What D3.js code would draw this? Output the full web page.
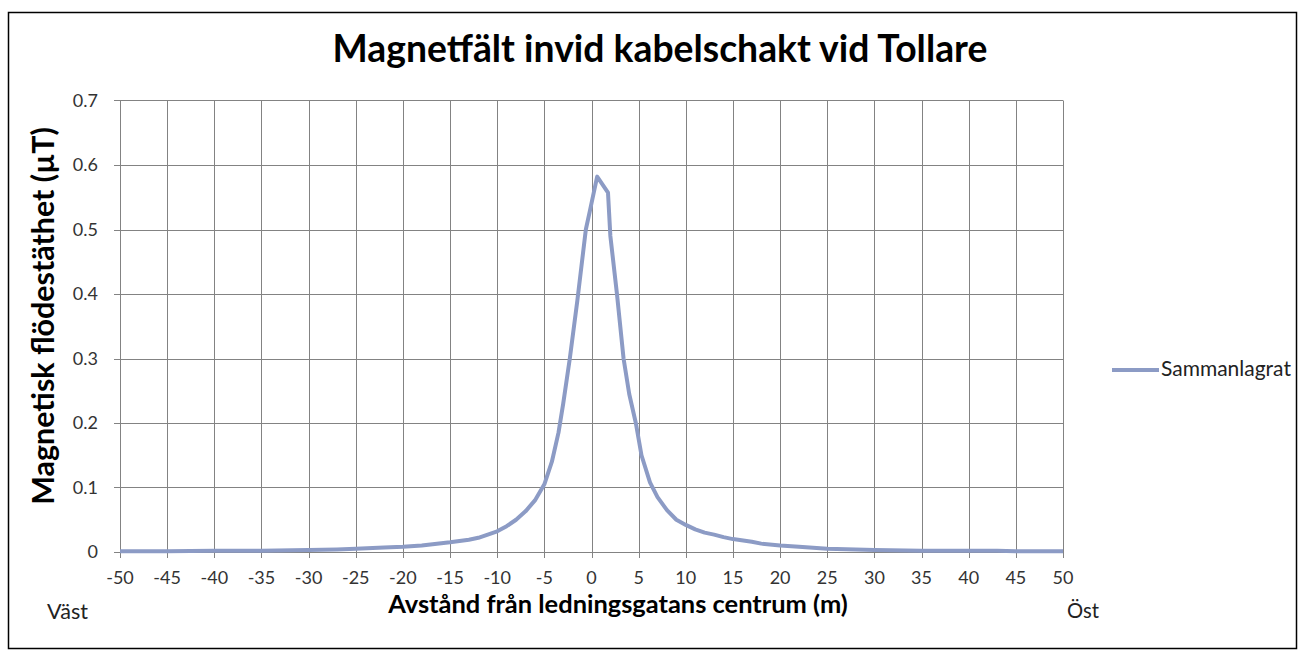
<!DOCTYPE html>
<html>
<head>
<meta charset="utf-8">
<script src="https://cdn.jsdelivr.net/npm/d3@7"></script>
<style>
  body { margin: 0; background: #fff; }
  svg { display: block; font-family: Lato, "Open Sans", sans-serif; }
</style>
</head>
<body>
<svg id="chart"></svg>
<script>
// distance from centre of the cable route (m) and flux density (µT)
const distance = [-50, -45, -40, -35, -30, -27, -25, -22, -20, -18, -15, -13, -12, -11, -10,
  -9, -8, -7, -6, -5, -4.2, -3.5, -3, -2.3, -1.5, -0.6, -0.2, 0.6, 1.75, 2, 2.7, 3.4, 4,
  4.7, 5.3, 6.2, 7, 8, 9, 10, 11, 12, 13, 14, 15, 17, 18, 20, 22, 25, 30, 35, 40, 43, 45, 50]
const fluxDensity = [0.001, 0.001, 0.002, 0.002, 0.003, 0.004, 0.005, 0.007, 0.008, 0.01, 0.015, 0.019, 0.022, 0.027, 0.032,
  0.04, 0.05, 0.063, 0.08, 0.105, 0.14, 0.185, 0.23, 0.3, 0.39, 0.5, 0.527, 0.582, 0.557, 0.49, 0.4, 0.3, 0.245,
  0.2, 0.15, 0.108, 0.085, 0.065, 0.05, 0.042, 0.035, 0.03, 0.027, 0.023, 0.02, 0.016, 0.013, 0.01, 0.008, 0.005, 0.003, 0.002, 0.002, 0.002, 0.001, 0.001]

const xTicks = d3.range(-50, 51, 5)
const yTicks = d3.range(0, 0.71, 0.1)
const seriesName = "Sammanlagrat"

const W = 1298, H = 650
const lineColor = "#8c9bc5"
const gridColor = "#838383"

const svg = d3.select("#chart").attr("width", W).attr("height", H)

// outer frame
svg.append("rect")
    .attr("x", 8.5).attr("y", 12.5)
    .attr("width", W - 10).attr("height", H - 14)
    .attr("fill", "none").attr("stroke", "#000").attr("stroke-width", 1.5)

const x = d3.scaleLinear().domain([-50, 50]).range([120, 1063])
const y = d3.scaleLinear().domain([0, 0.7]).range([552, 100.5])

// gridlines
const g = svg.append("g")
g.selectAll("line.hgrid").data(yTicks).enter().append("line")
    .attr("class", "hgrid")
    .attr("x1", 114).attr("x2", x(50))
    .attr("y1", d => Math.round(y(d)) + 0.5).attr("y2", d => Math.round(y(d)) + 0.5)
    .attr("stroke", gridColor)
g.selectAll("line.vgrid").data(xTicks).enter().append("line")
    .attr("class", "vgrid")
    .attr("x1", d => Math.round(x(d)) + 0.5).attr("x2", d => Math.round(x(d)) + 0.5)
    .attr("y1", y(0.7)).attr("y2", y(0) + 6)
    .attr("stroke", gridColor)

// tick labels
g.selectAll("text.ylab").data(yTicks).enter().append("text")
    .attr("class", "ylab")
    .attr("x", 98).attr("y", d => y(d) + 6)
    .attr("text-anchor", "end")
    .attr("font-size", 18).attr("fill", "#333")
    .text(d => d === 0 ? "0" : d3.format(".1f")(d))
g.selectAll("text.xlab").data(xTicks).enter().append("text")
    .attr("class", "xlab")
    .attr("x", d => x(d)).attr("y", 584)
    .attr("text-anchor", "middle")
    .attr("font-size", 18).attr("fill", "#333")
    .text(d => d)

// the series
const line = d3.line()
    .x((d, i) => x(distance[i]))
    .y(d => y(d))
svg.append("path")
    .datum(fluxDensity)
    .attr("d", line)
    .attr("fill", "none")
    .attr("stroke", lineColor)
    .attr("stroke-width", 4)
    .attr("stroke-linejoin", "round")

// shrink/grow a label's font so it spans the given width
function fitText(sel, width){
    let size = +sel.attr("font-size")
    let len = sel.node().getComputedTextLength()
    sel.attr("font-size", size * width / len)
}

const title = svg.append("text")
    .attr("x", 660).attr("y", 62)
    .attr("text-anchor", "middle")
    .attr("font-weight", "bold").attr("font-size", 28)
    .text("Magnetfält invid kabelschakt vid Tollare")
fitText(title, 655)

const yTitle = svg.append("text")
    .attr("transform", "translate(54,316) rotate(-90)")
    .attr("text-anchor", "middle")
    .attr("font-weight", "bold").attr("font-size", 19)
    .text("Magnetisk flödestäthet (µT)")
fitText(yTitle, 378)

const xTitle = svg.append("text")
    .attr("x", 618).attr("y", 613)
    .attr("text-anchor", "middle")
    .attr("font-weight", "bold").attr("font-size", 19)
    .text("Avstånd från ledningsgatans centrum (m)")
fitText(xTitle, 460)

const west = svg.append("text")
    .attr("x", 47).attr("y", 619)
    .attr("font-size", 15).attr("fill", "#222")
    .text("Väst")
fitText(west, 41)
const east = svg.append("text")
    .attr("x", 1067).attr("y", 618)
    .attr("font-size", 15).attr("fill", "#222")
    .text("Öst")
fitText(east, 32)

// legend
svg.append("line")
    .attr("x1", 1112).attr("x2", 1159)
    .attr("y1", 370).attr("y2", 370)
    .attr("stroke", lineColor).attr("stroke-width", 4)
const legendText = svg.append("text")
    .attr("x", 1161).attr("y", 376)
    .attr("font-size", 14).attr("fill", "#222")
    .text(seriesName)
fitText(legendText, 130)
</script>
</body>
</html>
